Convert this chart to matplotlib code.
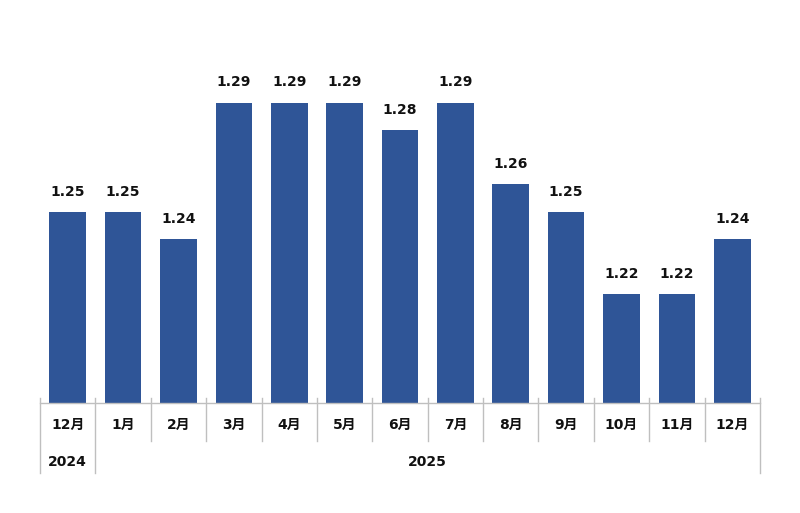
import matplotlib
matplotlib.use("Agg")
import matplotlib.pyplot as plt

plt.rcParams['font.family'] = ['DejaVu Sans', 'Noto Sans CJK JP']

months = ["12月", "1月", "2月", "3月", "4月", "5月", "6月", "7月", "8月", "9月", "10月", "11月", "12月"]
values = [1.25, 1.25, 1.24, 1.29, 1.29, 1.29, 1.28, 1.29, 1.26, 1.25, 1.22, 1.22, 1.24]
years = ["2024", "2025"]

fig = plt.figure(figsize=(8, 5.13), dpi=100)
ax = fig.add_axes([0.05, 0.2144, 0.9, 0.639])

x = list(range(len(months)))
bars = ax.bar(x, values, width=0.66, color="#2F5597", zorder=2)
ax.set_ylim(1.18, 1.30)
ax.set_xlim(-0.5, len(months) - 0.5)

for xi, v in zip(x, values):
    ax.annotate(f"{v:.2f}", (xi, v), xytext=(0, 14.5), textcoords="offset points",
                ha="center", va="center", fontsize=10, fontweight="bold", color="#111111")

for s in ["top", "right", "left"]:
    ax.spines[s].set_visible(False)
ax.spines["bottom"].set_color("#BFBFBF")
ax.spines["bottom"].set_linewidth(1)
ax.set_yticks([])
ax.set_xticks([])

tr = ax.get_xaxis_transform()
n = len(months)
for i in range(n + 1):
    b = i - 0.5
    y_end = -0.213 if i in (0, 1, n) else -0.116
    ax.plot([b, b], [0.015, y_end], transform=tr, color="#BFBFBF", lw=1, clip_on=False)

for xi, m in zip(x, months):
    ax.text(xi, -0.067, m, transform=tr, ha="center", va="center",
            fontsize=10, fontweight="bold", color="#111111")

ax.text(0, -0.18, years[0], transform=tr, ha="center", va="center",
        fontsize=10, fontweight="bold", color="#111111")
ax.text((0.5 + n - 0.5) / 2, -0.18, years[1], transform=tr, ha="center", va="center",
        fontsize=10, fontweight="bold", color="#111111")

fig.savefig("out.png", dpi=100)
